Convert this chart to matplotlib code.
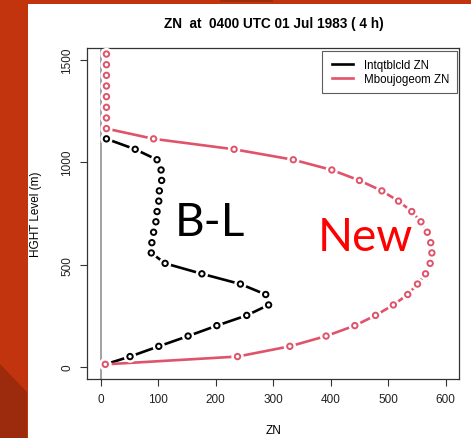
import matplotlib
matplotlib.use("Agg")
import matplotlib.pyplot as plt
import matplotlib.patheffects as pe
from matplotlib.patches import Rectangle, Polygon
from matplotlib.lines import Line2D
from matplotlib.legend_handler import HandlerLine2D

# heights (m) of the model levels
HGT = [13, 51, 101, 151, 202, 252, 303, 354, 405, 455, 506, 557, 607, 658,
       709, 759, 810, 860, 911, 962, 1012, 1063, 1114, 1164, 1216, 1268,
       1320, 1372, 1424, 1476, 1528]

# Intqtblcld ZN (black), only defined up to ~1115 m
ZN_OLD = [8, 51, 101, 152, 202, 254, 292, 287, 243, 176, 112, 88, 89, 92,
          96, 98, 101, 102, 106, 105, 98, 60, 10]

# Mboujogeom ZN (red)
ZN_NEW = [8, 238, 329, 392, 442, 478, 509, 534, 551, 565, 573, 576, 574,
          568, 557, 541, 518, 489, 450, 402, 335, 232, 92, 10, 10, 10, 10,
          10, 10, 10, 10]

SERIES = [("Intqtblcld ZN", ZN_OLD, "black"),
          ("Mboujogeom ZN", ZN_NEW, "#DF536B")]

TITLE = "ZN  at  0400 UTC 01 Jul 1983 ( 4 h)"
FONT = ["Liberation Sans", "DejaVu Sans"]

W, H = 471, 439
fig = plt.figure(figsize=(W / 100, H / 100), dpi=100)
fig.patch.set_facecolor("#C2340E")

# slide background: white page, dark corner bottom-left, tab at top
fig.patches.append(Rectangle((28 / W, 0), 1 - 28 / W, 1 - 5 / H,
                             transform=fig.transFigure, facecolor="white",
                             edgecolor="none", zorder=-2))
fig.patches.append(Polygon([(0, 0), (27 / W, 0), (27 / W, 1 - 393 / H), (0, 1 - 365 / H)],
                           closed=True, transform=fig.transFigure,
                           facecolor="#9C2A0D", edgecolor="none", zorder=-2))
fig.patches.append(Rectangle((220 / W, 1 - 3 / H), 53 / W, 3 / H,
                             transform=fig.transFigure, facecolor="#A02C10",
                             edgecolor="none", zorder=-2))

ax = fig.add_axes([87.3 / W, 59 / H, 372 / W, 331 / H])
ax.set_zorder(1)
ax.set_facecolor("white")

ax.axvline(0, color="#888888", lw=1.1, zorder=1)

for label, zn, col in SERIES:
    h = HGT[:len(zn)]
    ax.plot(zn, h, color=col, lw=1.9, zorder=2, label=label)
    ax.plot(zn, h, ls="none", marker="o", ms=3.9, mew=1.4, mfc="white",
            mec=col, zorder=3,
            path_effects=[pe.Stroke(linewidth=5.0, foreground="white"), pe.Normal()])

ax.set_xlim(-23.3, 623.7)
ax.set_ylim(-58.6, 1557.6)
ax.set_xticks([0, 100, 200, 300, 400, 500, 600])
ax.set_yticks([0, 500, 1000, 1500])
ax.tick_params(axis="both", direction="out", length=5, width=0.8,
               color="#333333", labelsize=8.5, pad=5)
for t in ax.get_yticklabels():
    t.set_rotation(90)
    t.set_va("center")
for t in ax.get_xticklabels() + ax.get_yticklabels():
    t.set_family(FONT)
    t.set_color("#222222")
for s in ax.spines.values():
    s.set_color("#333333")
    s.set_linewidth(0.9)

ax.set_xlabel("ZN", fontsize=8.5, family=FONT, labelpad=14)
ax.set_ylabel("HGHT Level (m)", fontsize=8.5, family=FONT, labelpad=14)
fig.text(273.5 / W, 1 - 24 / H, TITLE, ha="center", va="center",
         fontsize=9.85, fontweight="bold", family=FONT)

# R-style legend: wide margins
leg = ax.legend(loc="upper right", bbox_to_anchor=(0.995, 0.991),
                prop={"family": FONT, "size": 8.3}, frameon=True, fancybox=False,
                handlelength=2.0, handletextpad=0.95, borderpad=0.7,
                labelspacing=0.15, borderaxespad=0,
                handler_map={Line2D: HandlerLine2D(xpad=0.17)})
leg.get_frame().set_edgecolor("#333333")
leg.get_frame().set_linewidth(0.8)

# slide annotations
ax.text(190, 708, "B-L", fontsize=33, family=["Lato", "DejaVu Sans"],
        color="black", ha="center", va="center")
ax.text(460, 635, "New", fontsize=33, family=["Lato", "DejaVu Sans"],
        color="#FF0000", ha="center", va="center")

fig.savefig("out.png", dpi=100, facecolor=fig.get_facecolor())
